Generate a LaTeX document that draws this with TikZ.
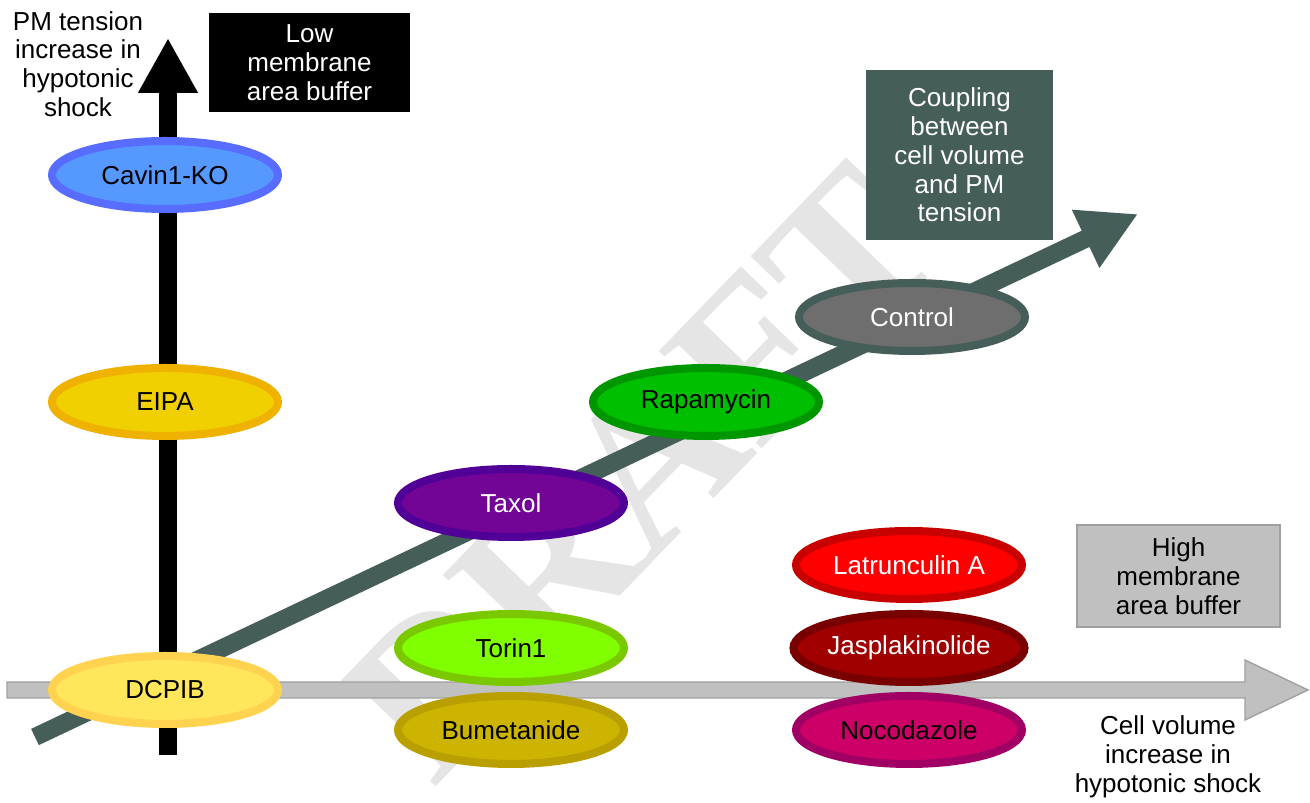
\documentclass[tikz,border=0pt]{standalone}
\usepackage{fontspec}
\setmainfont{Liberation Sans}
\newfontfamily\wmfont{Liberation Serif}
\usetikzlibrary{shapes.geometric,arrows.meta,calc}
\definecolor{couplingc}{RGB}{70,94,89}
\definecolor{axisgray}{RGB}{192,192,192}
\definecolor{axisedge}{RGB}{160,160,160}
\definecolor{wmgray}{RGB}{229,229,229}
\definecolor{cavinF}{RGB}{85,153,255}\definecolor{cavinB}{RGB}{88,108,255}
\definecolor{eipaF}{RGB}{240,208,0}\definecolor{eipaB}{RGB}{240,178,0}
\definecolor{dcpibF}{RGB}{255,230,90}\definecolor{dcpibB}{RGB}{255,210,80}
\definecolor{taxolF}{RGB}{115,5,150}\definecolor{taxolB}{RGB}{80,0,150}
\definecolor{rapaF}{RGB}{0,190,0}\definecolor{rapaB}{RGB}{0,150,0}
\definecolor{ctrlF}{RGB}{110,110,110}
\definecolor{torinF}{RGB}{128,255,0}\definecolor{torinB}{RGB}{122,200,0}
\definecolor{bumeF}{RGB}{204,180,0}\definecolor{bumeB}{RGB}{185,160,0}
\definecolor{latF}{RGB}{255,0,0}\definecolor{latB}{RGB}{200,0,0}
\definecolor{jasF}{RGB}{160,0,0}\definecolor{jasB}{RGB}{120,0,0}
\definecolor{nocoF}{RGB}{204,0,102}\definecolor{nocoB}{RGB}{160,0,100}
\tikzset{
  blob/.style={ellipse, minimum width=2.26cm, minimum height=0.68cm, inner sep=0pt, line width=0.08cm},
  infobox/.style={rectangle, inner sep=0pt, align=center},
  axislabel/.style={align=center, inner sep=0pt},
}
\begin{document}
\begin{tikzpicture}[font=\fontsize{7.4}{8.2}\selectfont]
\useasboundingbox (0,0) rectangle (13.10,8.03);
\fill[white] (0,0) rectangle (13.10,8.03);
% watermark
\node[rotate=46, text=wmgray, inner sep=0pt, font=\wmfont\bfseries\fontsize{61.5}{61.5}\selectfont] (wm) at (6.41,3.31) {DRAFT};
% horizontal axis
\coordinate (hs) at (0.07,1.13);
\coordinate (he) at (13.08,1.13);
\filldraw[fill=axisgray, draw=axisedge, line width=0.4pt]
  ($(hs)+(0,0.08)$) -- ($(he)+(-0.63,0.08)$) -- ($(he)+(-0.63,0.30)$) -- (he)
  -- ($(he)+(-0.63,-0.30)$) -- ($(he)+(-0.63,-0.08)$) -- ($(hs)+(0,-0.08)$) -- cycle;
% vertical axis
\coordinate (vs) at (1.68,0.48);
\coordinate (ve) at (1.68,7.65);
\draw[line width=0.18cm, black, -{Triangle[length=0.55cm,width=0.56cm]}] (vs) -- (ve);
% coupling diagonal
\coordinate (ds) at (0.35,0.66);
\coordinate (de) at (11.38,5.89);
\draw[line width=0.18cm, couplingc, -{Triangle[length=0.58cm,width=0.60cm]}] (ds) -- (de);
% ellipses
\node[blob, fill=cavinF, draw=cavinB] (cavin) at (1.65,6.28) {Cavin1-KO};
\node[blob, fill=eipaF, draw=eipaB] (eipa) at (1.65,4.01) {EIPA};
\node[blob, fill=dcpibF, draw=dcpibB] (dcpib) at (1.65,1.13) {DCPIB};
\node[blob, fill=taxolF, draw=taxolB, text=white] (taxol) at (5.11,3.00) {Taxol};
\node[blob, fill=rapaF, draw=rapaB] (rapa) at (7.06,4.01) {Rapamycin};
\node[blob, fill=ctrlF, draw=couplingc, text=white] (ctrl) at (9.12,4.86) {Control};
\node[blob, fill=torinF, draw=torinB] (torin) at (5.11,1.55) {Torin1};
\node[blob, fill=bumeF, draw=bumeB] (bume) at (5.11,0.73) {Bumetanide};
\node[blob, fill=latF, draw=latB, text=white] (lat) at (9.09,2.38) {Latrunculin A};
\node[blob, fill=jasF, draw=jasB, text=white] (jas) at (9.09,1.55) {Jasplakinolide};
\node[blob, fill=nocoF, draw=nocoB] (noco) at (9.09,0.73) {Nocodazole};
% boxes
\node[infobox, fill=black, text=white, minimum width=2.01cm, minimum height=0.99cm] (low) at (3.095,7.40) {Low\\membrane\\area buffer};
\node[infobox, fill=couplingc, text=white, minimum width=1.87cm, minimum height=1.70cm] (coup) at (9.595,6.48) {Coupling\\between\\cell volume\\and PM\\tension};
\node[infobox, fill=axisgray, draw=axisedge, line width=0.4pt, minimum width=2.03cm, minimum height=1.02cm] (high) at (11.785,2.27) {High\\membrane\\area buffer};
% axis labels
\node[axislabel] (ylab) at (0.78,7.39) {PM tension\\increase in\\hypotonic\\shock};
\node[axislabel] (xlab) at (11.68,0.46) {Cell volume\\increase in\\hypotonic shock};
\end{tikzpicture}
\end{document}
